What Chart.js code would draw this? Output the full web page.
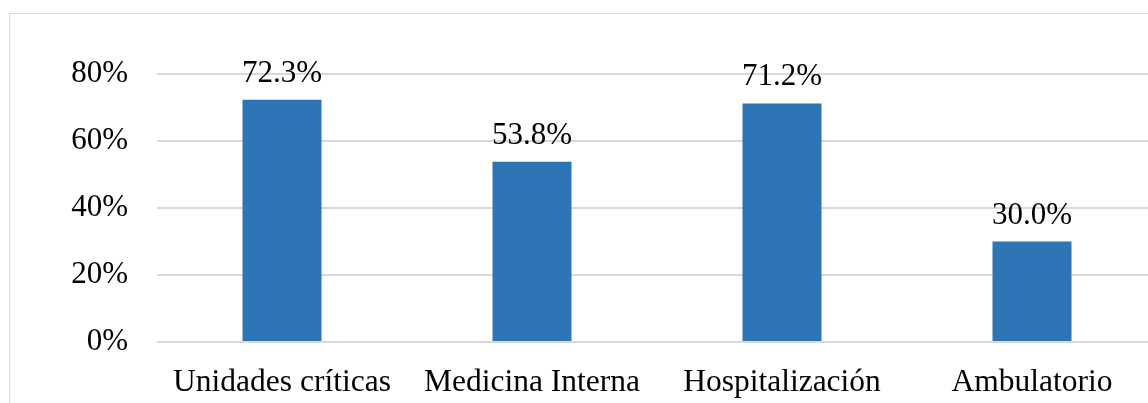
<!DOCTYPE html>
<html>
<head>
<meta charset="utf-8">
<script src="https://cdn.jsdelivr.net/npm/chart.js@4"></script>
<style>
  html, body { margin: 0; padding: 0; overflow: hidden; background: #fff; width: 1148px; height: 403px; }
  #frame { position: absolute; left: 9px; top: 13px; width: 1300px; height: 500px; border: 1px solid #d9d9d9; }
  #myChart { position: absolute; left: 0; top: 0; }
</style>
</head>
<body>
<div id="frame"></div>
<canvas id="myChart" width="1160" height="403"></canvas>
<script>
// datos del gráfico
const categorias = ['Unidades críticas', 'Medicina Interna', 'Hospitalización', 'Ambulatorio'];
const valores = [0.723, 0.538, 0.712, 0.300];
const ticksY = [0, 0.2, 0.4, 0.6, 0.8];

const fuente = "'Liberation Serif', 'Times New Roman', serif";

// etiquetas encima de cada barra
const etiquetas = {
  id: 'etiquetas',
  afterDatasetsDraw(chart) {
    const ctx = chart.ctx;
    const meta = chart.getDatasetMeta(0);
    ctx.save();
    ctx.font = '31px ' + fuente;
    ctx.fillStyle = '#000';
    ctx.textAlign = 'center';
    ctx.textBaseline = 'alphabetic';
    meta.data.forEach(function (bar, i) {
      ctx.fillText((valores[i] * 100).toFixed(1) + '%', bar.x, bar.y - 18);
    });
    ctx.restore();
  }
};

const ctx = document.getElementById('myChart');

new Chart(ctx, {
  type: 'bar',
  data: {
    labels: categorias,
    datasets: [{
      data: valores,
      backgroundColor: '#2e75b6',
      borderWidth: 0,
      categoryPercentage: 1,
      barPercentage: 0.316
    }]
  },
  options: {
    responsive: false,
    animation: false,
    layout: { padding: { top: 74, right: 3, bottom: 0, left: 0 } },
    plugins: { legend: { display: false }, tooltip: { enabled: false } },
    scales: {
      x: {
        afterFit: function (scale) { scale.height = 61; },
        grid: { display: false, drawTicks: false },
        border: { display: false },
        ticks: { color: '#000', font: { family: fuente, size: 31.5 }, padding: 22, maxRotation: 0 }
      },
      y: {
        min: 0,
        max: 0.8,
        afterFit: function (scale) { scale.width = 157; },
        afterBuildTicks: function (scale) { scale.ticks = ticksY.map(v => ({ value: v })); },
        grid: { color: '#d9d9d9', lineWidth: 2, drawTicks: false },
        border: { display: false },
        ticks: {
          color: '#000',
          font: { family: fuente, size: 31 },
          padding: 29,
          callback: function (v) { return Math.round(v * 100) + '%'; }
        }
      }
    }
  },
  plugins: [etiquetas]
});
</script>
</body>
</html>
